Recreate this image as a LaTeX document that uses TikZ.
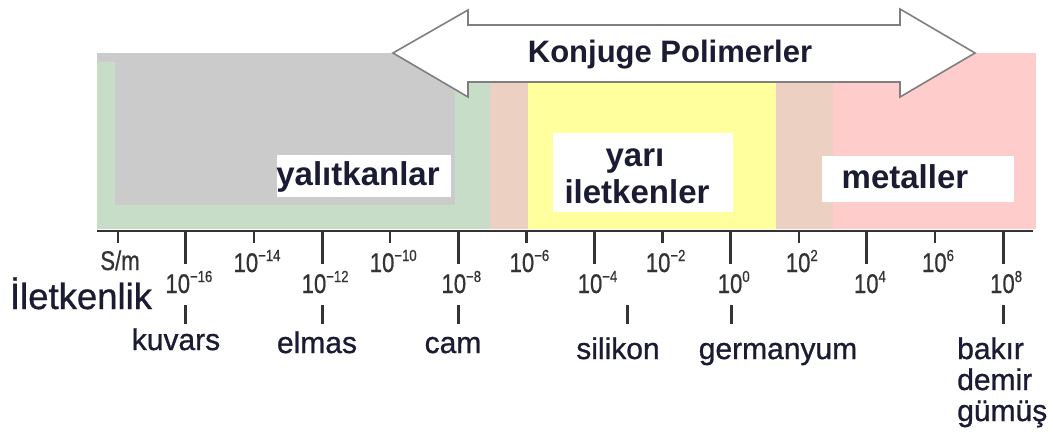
\documentclass[tikz,border=0pt]{standalone}
\usepackage{fontspec}
\setmainfont{Liberation Sans}
\newfontfamily\tickfont[FakeStretch=0.82,FakeBold=0.6]{Liberation Sans}
\newfontfamily\matfont[FakeBold=0.9]{Liberation Sans}

\definecolor{inkdark}{HTML}{1B1B33}
\definecolor{tickgray}{HTML}{333333}
\definecolor{insulgray}{HTML}{CBCBCB}
\definecolor{insulgreen}{HTML}{C8DDC8}
\definecolor{transbeige}{HTML}{ECD1C2}
\definecolor{semiyellow}{HTML}{FFFF9E}
\definecolor{metalpink}{HTML}{FFCCCC}
\definecolor{arrowedge}{HTML}{7F7F7F}

\begin{document}
\begin{tikzpicture}[x=1pt,y=-1pt,
  bandlabel/.style={font=\bfseries\fontsize{33}{36}\selectfont, text=inkdark, inner sep=0pt},
  headlabel/.style={font=\bfseries\fontsize{31}{34}\selectfont, text=inkdark, inner sep=0pt},
  matlabel/.style={font=\matfont\fontsize{30}{34}\selectfont, text=inkdark, inner sep=0pt, anchor=base},
  ticklabel/.style={font=\tickfont\fontsize{27}{27}\selectfont, text=tickgray, inner sep=0pt, anchor=base},
  whitebox/.style={fill=white, draw=none, inner sep=0pt},
  axisline/.style={draw=tickgray, line width=2.5pt},
  majortick/.style={draw=tickgray, line width=3pt},
  minortick/.style={draw=tickgray, line width=2.5pt},
  pointer/.style={draw=tickgray, line width=3pt},
  arrowbody/.style={fill=white, draw=arrowedge, line width=1.6pt, line join=miter}
]
\useasboundingbox (0,0) rectangle (1053,436);

% conductivity bands
\fill[insulgreen] (97,62) rectangle (490,229);
\fill[insulgray] (97,53) rectangle (455,62);
\fill[insulgray] (115,53) rectangle (455,205);
\fill[transbeige] (490,53) rectangle (528,229);
\fill[semiyellow] (528,53) rectangle (776,229);
\fill[transbeige] (776,53) rectangle (833,229);
\fill[metalpink] (833,53) rectangle (1036,229);

% double arrow for conjugated polymers
\draw[arrowbody] (393,53) -- (468,10) -- (468,25) -- (900,25) -- (900,9)
  -- (975,53) -- (900,97) -- (900,82) -- (468,82) -- (468,97) -- cycle;
\node[headlabel, anchor=base] (kp) at (670,63) {Konjuge Polimerler};

% band labels on white boxes
\node[whitebox, minimum width=174pt, minimum height=42pt] (insbox) at (364,176) {};
\node[bandlabel, anchor=base] (ins) at (358,185) {yalıtkanlar};
\node[whitebox, minimum width=180pt, minimum height=79pt] (semibox) at (643,172.5) {};
\node[bandlabel, anchor=base] (semi1) at (635,166) {yarı};
\node[bandlabel, anchor=base] (semi2) at (637,203) {iletkenler};
\node[whitebox, minimum width=192pt, minimum height=46pt] (metbox) at (918,179) {};
\node[bandlabel, anchor=base] (met) at (905,188) {metaller};

% axis
\coordinate (axL) at (97,231);
\coordinate (axR) at (1033,231);
\draw[axisline] (axL) -- (axR);

\node[ticklabel] (unit) at (120,270) {S/m};
\foreach \k in {1,...,13}{
  \pgfmathsetmacro{\tx}{117.8+68.1*\k}
  \pgfmathtruncatemacro{\ex}{-18+2*\k}
  \pgfmathtruncatemacro{\odd}{mod(\k,2)}
  \ifnum\ex<0
    \def\exptext{−\the\numexpr-\ex\relax}
  \else
    \def\exptext{\ex}
  \fi
  \ifnum\odd=1
    \draw[majortick] (\tx,231) -- (\tx,264);
    \node[ticklabel] (t\k) at (\tx+3,293) {10\raisebox{11pt}{\fontsize{16}{16}\selectfont\exptext}};
  \else
    \draw[minortick] (\tx,231) -- (\tx,243);
    \node[ticklabel] (t\k) at (\tx+3,272) {10\raisebox{11pt}{\fontsize{16}{16}\selectfont\exptext}};
  \fi
}
\draw[minortick] (117.8,231) -- (117.8,243);

% quantity name
\node[font=\matfont\fontsize{36.5}{40}\selectfont, text=inkdark, inner sep=0pt, anchor=base] (cond) at (81,309) {İletkenlik};

% materials
\node[matlabel] (kuvars) at (176,350) {kuvars};
\node[matlabel] (elmas) at (317,353) {elmas};
\node[matlabel] (cam) at (453,353) {cam};
\node[matlabel] (silikon) at (618,359) {silikon};
\node[matlabel] (germ) at (778,359) {germanyum};
\node[matlabel, anchor=base west] (bakir) at (957,359) {bakır};
\node[matlabel, anchor=base west] (demir) at (957,390) {demir};
\node[matlabel, anchor=base west] (gumus) at (957,421) {gümüş};

% pointers from scale to materials
\foreach \px in {185.9,322.1,458.3,627,731.6,1003.1}{
  \draw[pointer] (\px,305) -- (\px,324);
}
\end{tikzpicture}
\end{document}
